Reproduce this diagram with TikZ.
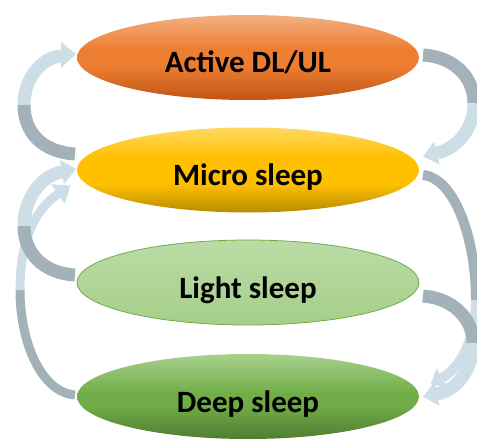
\documentclass[tikz,border=0pt]{standalone}
\usepackage{fontspec}
\setmainfont{Carlito}
\usetikzlibrary{shapes.geometric}
\definecolor{armgray}{HTML}{A3B1B9}
\definecolor{armblue}{HTML}{CDDEE6}
\definecolor{orA}{HTML}{F4B183}
\definecolor{orB}{HTML}{ED7D31}
\definecolor{orC}{HTML}{BF5515}
\definecolor{yeA}{HTML}{FFD966}
\definecolor{yeB}{HTML}{FFC000}
\definecolor{yeC}{HTML}{B88A00}
\definecolor{lgA}{HTML}{BADBA6}
\definecolor{lgB}{HTML}{A6CF8A}
\definecolor{lgE}{HTML}{70AD47}
\definecolor{dgA}{HTML}{A9D18E}
\definecolor{dgB}{HTML}{70AD47}
\definecolor{dgC}{HTML}{507D32}
\pgfdeclareverticalshading{orshade}{100bp}{color(0bp)=(orC); color(25bp)=(orC); color(45bp)=(orB); color(55bp)=(orB); color(75bp)=(orA); color(100bp)=(orA)}
\pgfdeclareverticalshading{yeshade}{100bp}{color(0bp)=(yeC); color(25bp)=(yeC); color(42bp)=(yeB); color(58bp)=(yeB); color(75bp)=(yeA); color(100bp)=(yeA)}
\pgfdeclareverticalshading{lgshade}{100bp}{color(0bp)=(lgB); color(25bp)=(lgB); color(75bp)=(lgA); color(100bp)=(lgA)}
\pgfdeclareverticalshading{dgshade}{100bp}{color(0bp)=(dgC); color(25bp)=(dgC); color(45bp)=(dgB); color(52bp)=(dgB); color(75bp)=(dgA); color(100bp)=(dgA)}
\tikzset{
  statebox/.style={ellipse, minimum width=342pt, minimum height=85pt, inner sep=0pt},
  statetext/.style={font=\bfseries\fontsize{31}{34}\selectfont, text=black, inner sep=0pt, anchor=base},
  backband/.style={draw=armgray, line width=#1},
  frontband/.style={draw=armblue, line width=#1},
  headfill/.style={fill=armblue}
}
\begin{document}
\begin{tikzpicture}[x=1pt,y=-1pt]
\useasboundingbox (0,0) rectangle (477,442);
\clip (0,0) rectangle (477,442);

% ---------- left arrows ----------
% Micro -> Active
\coordinate (la1t) at (75,154);
\coordinate (la1m) at (24,105);
\coordinate (la1h) at (62,56);
\path[backband=13pt] (la1t) .. controls (42,152) and (24,132) .. (la1m);
\path[frontband=13pt] (la1m) .. controls (24,78) and (42,57) .. (la1h);
\fill[headfill] (61,42) -- (76,54) -- (61,68) -- cycle;

% Deep -> Micro (long)
\coordinate (la3t) at (75,395);
\coordinate (la3m) at (20,290);
\coordinate (la3h) at (58,194);
\path[backband=9pt] (la3t) .. controls (40,392) and (20,340) .. (la3m);
\path[frontband=9pt] (la3m) .. controls (20,240) and (35,210) .. (la3h);
\fill[headfill] (64.8,203.8) -- (70.5,185.5) -- (51.2,184.2) -- cycle;

% Light -> Micro
\coordinate (la2t) at (75,275);
\coordinate (la2m) at (24,226);
\coordinate (la2h) at (62,172);
\path[backband=13pt] (la2t) .. controls (42,273) and (24,252) .. (la2m);
\path[frontband=13pt] (la2m) .. controls (24,198) and (42,175) .. (la2h);
\fill[headfill] (60,160) -- (76,169) -- (64,184) -- cycle;

% ---------- right arrows ----------
% Active -> Micro
\coordinate (ra1t) at (423,55);
\coordinate (ra1m) at (474,103);
\coordinate (ra1h) at (437,153);
\path[backband=13pt] (ra1t) .. controls (455,57) and (474,78) .. (ra1m);
\path[frontband=13pt] (ra1m) .. controls (474,128) and (458,148) .. (ra1h);
\fill[headfill] (434.2,141.4) -- (423,156.5) -- (439.8,164.6) -- cycle;

% Micro -> Deep (long)
\coordinate (ra2t) at (423,175);
\coordinate (ra2m) at (476,300);
\coordinate (ra2h) at (442,378);
\path[backband=10pt] (ra2t) .. controls (455,178) and (476,240) .. (ra2m);
\path[frontband=10pt] (ra2m) .. controls (476,340) and (460,368) .. (ra2h);
\fill[headfill] (436.7,368.4) -- (430.6,384.3) -- (447.3,387.6) -- cycle;

% Light -> Deep
\coordinate (ra3t) at (423,296);
\coordinate (ra3m) at (473,343);
\coordinate (ra3h) at (437,394);
\path[backband=13pt] (ra3t) .. controls (452,298) and (473,318) .. (ra3m);
\path[frontband=13pt] (ra3m) .. controls (473,368) and (458,390) .. (ra3h);
\fill[headfill] (434.7,382.2) -- (423,396.7) -- (439.3,405.8) -- cycle;

% ---------- states ----------
\node[statebox, shading=orshade] (active) at (248,57.5) {};
\node[statebox, shading=yeshade] (micro) at (248,170) {};
\node[statebox, shading=lgshade, draw=lgE, line width=0.8pt] (light) at (248,282.5) {};
\node[statebox, shading=dgshade] (deep) at (248,396.5) {};

\node[statetext] (activeT) at ([yshift=-14.5pt]active.center) {Active DL/UL};
\node[statetext] (microT) at ([yshift=-15pt]micro.center) {Micro sleep};
\node[statetext] (lightT) at ([yshift=-15.5pt]light.center) {Light sleep};
\node[statetext] (deepT) at ([yshift=-15.5pt]deep.center) {Deep sleep};
\end{tikzpicture}
\end{document}
